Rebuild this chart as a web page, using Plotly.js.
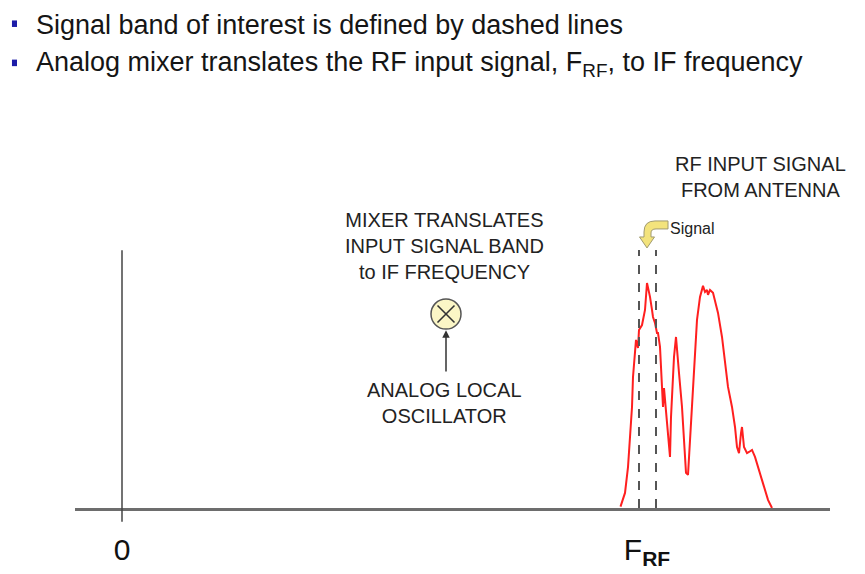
<!DOCTYPE html>
<html>
<head>
<meta charset="utf-8">
<script src="https://cdn.plot.ly/plotly-3.0.1.min.js"></script>
<style>
  html, body { margin: 0; padding: 0; background: #fff; }
  #chart { width: 865px; height: 574px; }
</style>
</head>
<body>
<div id="chart"></div>
<script>
// RF spectrum (frequency in arbitrary units, F_RF = 105)
const rfFreq = [
  99.7, 100.6, 101.2, 102.0, 102.2, 102.8, 103.2, 103.4, 104.0, 104.6,
  105.0, 105.6, 106.0, 106.2, 106.6, 107.0, 107.2, 107.6, 108.0, 108.2,
  108.4, 108.8, 109.2, 109.6, 109.8, 110.2, 110.4, 110.8, 111.0, 111.4,
  112.0, 112.4, 112.8, 113.2, 113.6, 114.2, 114.6, 115.0, 115.6, 116.2,
  116.6, 117.0, 117.2, 117.6, 118.2, 118.6, 119.0, 119.2, 120.0, 120.6,
  121.2, 122.0, 122.6, 123.0, 123.4, 123.8, 124.0, 124.4, 125.0, 125.4,
  126.0, 126.6, 127.2, 128.2, 129.2, 130.0
];
const rfAmp = [
  0.006, 0.067, 0.182, 0.449, 0.582, 0.747, 0.711, 0.791, 0.813, 0.880,
  1.000, 0.938, 0.880, 0.849, 0.822, 0.778, 0.778, 0.716, 0.538, 0.449,
  0.533, 0.422, 0.333, 0.227, 0.404, 0.627, 0.671, 0.760, 0.689, 0.600,
  0.449, 0.302, 0.156, 0.147, 0.302, 0.538, 0.702, 0.836, 0.938, 0.987,
  0.960, 0.969, 0.947, 0.969, 0.956, 0.924, 0.880, 0.867, 0.760, 0.658,
  0.538, 0.449, 0.360, 0.271, 0.244, 0.333, 0.360, 0.271, 0.244, 0.249,
  0.258, 0.227, 0.182, 0.111, 0.036, 0.000
];

// band of interest (dashed lines) and axis ticks
const bandEdges = [103.4, 106.8];
const tickFreqs = [0, 105];
const tickLabels = ["0", "F<sub><b>RF</b></sub>"];

const bullets = [
  "Signal band of interest is defined by dashed lines",
  "Analog mixer translates the RF input signal, F<sub>RF</sub>, to IF frequency"
];

const textColor = "#222";
const fontFam = "Liberation Sans, Arial, sans-serif";

const trace = {
  x: rfFreq,
  y: rfAmp,
  type: "scatter",
  mode: "lines",
  line: { color: "#ff1f1f", width: 2 },
  hoverinfo: "skip",
  cliponaxis: false,
};

const shapes = [];

// vertical axis at 0 (goes a bit below the baseline)
shapes.push({
  type: "line", xref: "x", yref: "paper",
  x0: 0, x1: 0, y0: -0.034, y1: 0.632,
  line: { color: "#444", width: 1.5 },
});

// dashed band edges
bandEdges.forEach((f) => {
  shapes.push({
    type: "line", xref: "x", yref: "y",
    x0: f, x1: f, y0: 0, y1: 1.147,
    line: { color: "#555", width: 2, dash: "dash" },
  });
});

// mixer symbol
const mx = 64.8, my = 0.862;
shapes.push({
  type: "circle", xref: "x", yref: "y",
  x0: mx - 3, x1: mx + 3, y0: my - 0.067, y1: my + 0.067,
  fillcolor: "#fbf6c6", line: { color: "#555", width: 1.5 },
});
shapes.push({
  type: "line", xref: "x", yref: "y",
  x0: mx - 1.7, x1: mx + 1.7, y0: my - 0.038, y1: my + 0.038,
  line: { color: "#333", width: 1.5 },
});
shapes.push({
  type: "line", xref: "x", yref: "y",
  x0: mx - 1.7, x1: mx + 1.7, y0: my + 0.038, y1: my - 0.038,
  line: { color: "#333", width: 1.5 },
});

// yellow bent arrow pointing at the signal (pixel outline -> data units)
function P(px, py) {
  return ((px - 122) / 5).toFixed(2) + "," + ((508 - py) / 225).toFixed(4);
}
shapes.push({
  type: "path", xref: "x", yref: "y",
  path: "M" + P(668, 221) + " L" + P(655, 221) +
        " Q" + P(644, 221) + " " + P(644, 232) +
        " L" + P(644, 237) + " L" + P(639.5, 237) + " L" + P(647, 248) +
        " L" + P(654.5, 237) + " L" + P(651, 237) + " L" + P(651, 233) +
        " Q" + P(651, 229) + " " + P(656, 229) + " L" + P(668, 229) + " Z",
  fillcolor: "#f3e37c", line: { color: "#a09a70", width: 1 },
});

// bullet squares
bullets.forEach((b, i) => {
  const yc = i === 0 ? 1.187 : 1.091;
  shapes.push({
    type: "rect", xref: "paper", yref: "paper",
    x0: -0.0835, x1: -0.0768, y0: yc - 0.008, y1: yc + 0.008,
    fillcolor: "#1c1ca8", line: { width: 0 },
  });
});

const annotations = [];

bullets.forEach((b, i) => {
  annotations.push({
    xref: "paper", yref: "paper",
    x: -0.054, y: i === 0 ? 1.183 : 1.089,
    xanchor: "left", yanchor: "middle",
    text: b, showarrow: false,
    font: { family: fontFam, size: 27, color: "#151515" },
  });
});

annotations.push({
  x: 64.4, y: 1.163, xref: "x", yref: "y",
  text: "MIXER TRANSLATES<br>INPUT SIGNAL BAND<br>to IF FREQUENCY",
  showarrow: false, align: "center",
  font: { family: fontFam, size: 20, color: textColor },
});
annotations.push({
  x: 64.4, y: 0.465, xref: "x", yref: "y",
  text: "ANALOG LOCAL<br>OSCILLATOR",
  showarrow: false, align: "center",
  font: { family: fontFam, size: 20, color: textColor },
});
annotations.push({
  x: 127.6, y: 1.472, xref: "x", yref: "y",
  text: "RF INPUT SIGNAL<br>FROM ANTENNA",
  showarrow: false, align: "center",
  font: { family: fontFam, size: 20, color: textColor },
});
annotations.push({
  x: 109.2, y: 1.24, xref: "x", yref: "y",
  xanchor: "left",
  text: "Signal",
  showarrow: false,
  font: { family: fontFam, size: 16, color: textColor },
});
// local oscillator arrow into the mixer
annotations.push({
  x: mx, y: my - 0.072, xref: "x", yref: "y",
  ax: mx, ay: 0.6, axref: "x", ayref: "y",
  text: "", showarrow: true,
  arrowhead: 2, arrowsize: 1, arrowwidth: 1.5, arrowcolor: "#333",
});

const layout = {
  width: 865,
  height: 574,
  margin: { l: 75, r: 35, t: 100, b: 66 },
  paper_bgcolor: "#fff",
  plot_bgcolor: "#fff",
  showlegend: false,
  xaxis: {
    range: [-9.4, 141.6],
    showgrid: false,
    zeroline: false,
    showline: true,
    linecolor: "#6d6d6d",
    linewidth: 3,
    ticks: "",
    tickvals: tickFreqs,
    ticktext: tickLabels,
    ticklabelstandoff: 13,
    tickfont: { family: fontFam, size: 30, color: "#111" },
    fixedrange: true,
  },
  yaxis: {
    range: [0, 1.813],
    visible: false,
    fixedrange: true,
  },
  shapes: shapes,
  annotations: annotations,
};

Plotly.newPlot("chart", [trace], layout, { displayModeBar: false, staticPlot: true });
</script>
</body>
</html>
